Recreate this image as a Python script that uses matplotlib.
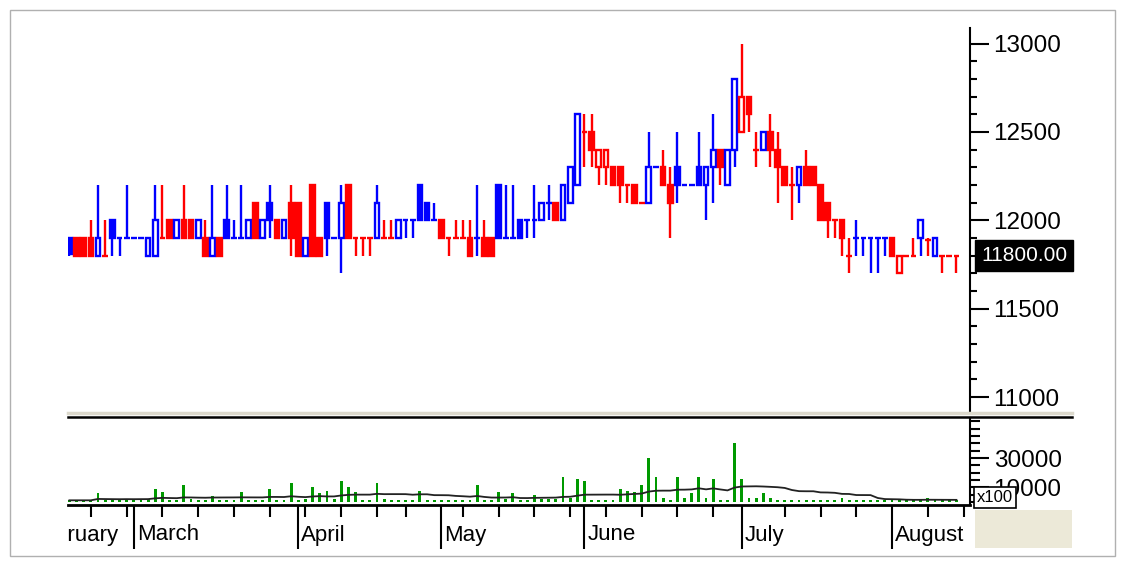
import numpy as np
import pandas as pd
import matplotlib
matplotlib.use("Agg")
import matplotlib.pyplot as plt
from matplotlib.lines import Line2D
from matplotlib.patches import Rectangle
from matplotlib.ticker import MultipleLocator, FixedLocator

plt.rcParams['font.family'] = ['Liberation Sans', 'DejaVu Sans']

# daily prices (Feb - Aug), one entry per trading session
opens = [11900, 11900, 11900, 11900, 11800, 11800, 12000, 11900, 11900, 11900,
         11900, 11800, 11800, 11900, 12000, 11900, 12000, 12000, 11900, 11900,
         11800, 11900, 12000, 11900, 11900, 11900, 12100, 11900, 12100, 12000,
         11900, 12100, 12100, 11800, 12200, 11900, 12100, 11900, 11900, 12200,
         11900, 11900, 11900, 11900, 11900, 11900, 11900, 12000, 12000, 12200,
         12100, 12000, 12000, 11900, 11900, 11900, 11900, 11900, 11900, 11900,
         12200, 11900, 11900, 12000, 12000, 12000, 12000, 12100, 12100, 12000,
         12100, 12200, 12500, 12500, 12300, 12300, 12300, 12300, 12200, 12200,
         12100, 12100, 12300, 12300, 12200, 12300, 12200, 12200, 12300, 12200,
         12300, 12400, 12200, 12400, 12500, 12700, 12400, 12400, 12500, 12400,
         12300, 12200, 12200, 12300, 12300, 12200, 12100, 12000, 12000, 11800,
         11900, 11900, 11900, 11900, 11900, 11900, 11700, 11800, 11800, 11900,
         11890, 11800, 11800, 11800, 11800]
highs = [11900, 11900, 11900, 12000, 12200, 12000, 12000, 11900, 12200, 11900,
         11900, 11900, 12200, 12200, 12000, 12000, 12200, 12000, 12000, 12000,
         12200, 11900, 12200, 12000, 12200, 12000, 12100, 12000, 12200, 12000,
         12000, 12200, 12100, 11900, 12200, 11900, 12100, 11900, 12200, 12200,
         11900, 11900, 11900, 12200, 12000, 12000, 12000, 12000, 12000, 12200,
         12100, 12100, 12000, 11900, 12000, 12000, 12000, 12200, 12000, 11900,
         12200, 12200, 12200, 12000, 12000, 12200, 12100, 12200, 12100, 12200,
         12300, 12600, 12600, 12600, 12400, 12400, 12300, 12300, 12200, 12200,
         12100, 12500, 12300, 12400, 12300, 12500, 12200, 12200, 12500, 12300,
         12600, 12400, 12400, 12800, 13000, 12700, 12500, 12500, 12600, 12500,
         12300, 12300, 12300, 12400, 12300, 12200, 12100, 12000, 12000, 11900,
         12000, 11900, 11900, 11900, 11900, 11900, 11800, 11800, 11900, 12000,
         11900, 11900, 11800, 11800, 11800]
lows = [11800, 11800, 11800, 11800, 11800, 11800, 11800, 11800, 11900, 11900,
        11900, 11800, 11800, 11900, 11900, 11900, 11900, 11900, 11900, 11800,
        11800, 11800, 11900, 11900, 11900, 11900, 11900, 11900, 11900, 11900,
        11900, 11800, 11800, 11800, 11800, 11800, 11800, 11900, 11700, 11900,
        11800, 11800, 11800, 11900, 11900, 11900, 11900, 11900, 11900, 12000,
        12000, 12000, 11900, 11800, 11900, 11900, 11800, 11800, 11800, 11800,
        11900, 11900, 11900, 11900, 11900, 11900, 12000, 12000, 12000, 12000,
        12100, 12200, 12300, 12300, 12200, 12200, 12200, 12100, 12100, 12100,
        12100, 12100, 12300, 12200, 11900, 12100, 12200, 12200, 12200, 12000,
        12100, 12200, 12200, 12300, 12500, 12500, 12300, 12400, 12300, 12100,
        12200, 12000, 12100, 12200, 12200, 12000, 11900, 11900, 11800, 11700,
        11800, 11800, 11700, 11700, 11800, 11800, 11700, 11800, 11800, 11800,
        11800, 11800, 11700, 11800, 11700]
closes = [11810, 11800, 11800, 11800, 11900, 11800, 11900, 11900, 11900, 11900,
          11900, 11900, 12000, 11900, 11900, 12000, 11900, 11900, 12000, 11800,
          11900, 11800, 11900, 11900, 11900, 12000, 11900, 12000, 12000, 11900,
          12000, 11900, 11800, 11900, 11800, 11800, 11900, 11900, 12100, 11900,
          11900, 11900, 11900, 12100, 11900, 11900, 12000, 12000, 12000, 12000,
          12000, 12000, 11900, 11900, 11900, 11900, 11800, 11900, 11800, 11800,
          11900, 11900, 11900, 11900, 12000, 12000, 12100, 12100, 12000, 12200,
          12300, 12600, 12500, 12400, 12400, 12400, 12200, 12200, 12200, 12100,
          12100, 12300, 12300, 12200, 12100, 12200, 12200, 12200, 12200, 12300,
          12400, 12300, 12400, 12800, 12700, 12600, 12400, 12500, 12400, 12300,
          12200, 12200, 12300, 12200, 12200, 12000, 12000, 12000, 11900, 11800,
          11900, 11900, 11900, 11900, 11900, 11800, 11800, 11800, 11800, 12000,
          11890, 11900, 11800, 11800, 11800]
# volume, x100 shares
volumes = [1150, 1150, 1150, 1150, 5800, 1600, 1600, 1600, 2300, 1600,
           2300, 2300, 8800, 6900, 1150, 1150, 11500, 2300, 1150, 1600,
           3900, 1600, 1600, 1600, 6900, 1150, 1150, 1600, 8800, 1600,
           1150, 12700, 1600, 2300, 10000, 5800, 7400, 2300, 14300, 10000,
           6900, 1600, 1600, 12700, 2300, 1600, 1150, 1150, 1150, 7400,
           1150, 1150, 1150, 1150, 1150, 1150, 1600, 11500, 1600, 1600,
           6500, 2300, 5800, 1600, 1600, 4600, 2300, 2300, 2300, 17200,
           3000, 16000, 14400, 1600, 1600, 1600, 1600, 9100, 7600, 6800,
           11400, 29800, 17200, 3000, 1600, 17200, 3000, 5800, 17200, 3000,
           16000, 1600, 1600, 40400, 16000, 3000, 3000, 6100, 3000, 1600,
           1600, 1600, 1600, 1600, 1600, 1600, 1600, 1600, 2600, 1600,
           1600, 1150, 1150, 1150, 1150, 1150, 1150, 1150, 1150, 1600,
           3000, 1150, 1150, 1150, 1150]

month_names = ["February", "March", "April", "May", "June", "July", "August"]
month_starts = [-6, 9, 32, 52, 72, 94, 115]
week_ticks = [3, 8, 13, 18, 23, 28, 33, 38, 43, 47, 55, 60, 65, 70, 75, 80,
              85, 90, 100, 105, 110, 120, 125]

BLUE = "#0000FF"
RED = "#FF0000"
GREEN = "#009900"

df = pd.DataFrame({"open": opens, "high": highs, "low": lows,
                   "close": closes, "volume": volumes})
n = len(df)
x = np.arange(n)

# colour: versus previous close, unchanged keeps the last colour
colors = []
col = BLUE
for i in range(n):
    if i > 0:
        if df.close[i] > df.close[i - 1]:
            col = BLUE
        elif df.close[i] < df.close[i - 1]:
            col = RED
    colors.append(col)
df["color"] = colors
df["vol_ma"] = df.volume.rolling(20, min_periods=1).mean()

W, H = 1125, 564
def fx(px):
    return px / W
def fy(py):
    return 1 - py / H

fig = plt.figure(figsize=(11.25, 5.64), dpi=100)
ax = fig.add_axes([fx(68), fy(412), fx(970) - fx(68), fy(28) - fy(412)])
axv = fig.add_axes([fx(68), fy(505), fx(970) - fx(68), fy(418) - fy(505)])
axd = fig.add_axes([fx(68), fy(550), fx(970) - fx(68), fy(505) - fy(550)])

xlim = (-0.2, 125.9)

# -------------------------------
# price panel
# -------------------------------
ax.vlines(x, df.low, df.high, colors=df.color, lw=1.7, zorder=1)
body = df[df.close != df.open]
ax.bar(body.index, (body.close - body.open).abs(),
       bottom=np.minimum(body.open, body.close), width=0.66,
       color=np.where(body.close > body.open, "white", body.color),
       edgecolor=body.color, linewidth=1.7, zorder=2)
doji = df[df.close == df.open]
ax.hlines(doji.close, doji.index - 0.4, doji.index + 0.4,
          colors=doji.color, lw=1.7, zorder=2)

ax.set_xlim(*xlim)
ax.set_ylim(10916, 13088)
ax.yaxis.tick_right()
ax.set_yticks(range(11000, 13001, 500))
ax.yaxis.set_minor_locator(MultipleLocator(100))
ax.tick_params(axis="y", which="major", direction="out", length=14, width=1.5,
               labelsize=17.5, pad=3)
ax.tick_params(axis="y", which="minor", direction="out", length=5, width=1.5)
ax.set_xticks([])
for s in ["top", "left", "bottom"]:
    ax.spines[s].set_visible(False)
ax.spines["right"].set_linewidth(1.5)

last = df.close.iloc[-1]
ax.text(1.0125, last, f"{last:.2f}", transform=ax.get_yaxis_transform(),
        color="white", fontsize=15, va="center", ha="left",
        bbox=dict(boxstyle="square,pad=0.28", fc="black", ec="black"))

# -------------------------------
# volume panel
# -------------------------------
axv.bar(x, df.volume, width=0.4, color=GREEN, zorder=1)
axv.plot(x, df.vol_ma, color="#222222", lw=1.3, zorder=2)
axv.set_xlim(*xlim)
axv.set_ylim(-2050, 57300)
axv.yaxis.tick_right()
axv.yaxis.set_major_locator(FixedLocator([10000, 30000]))
axv.yaxis.set_minor_locator(MultipleLocator(5000))
axv.tick_params(axis="y", which="major", direction="out", length=14, width=1.5,
                labelsize=17.5, pad=3)
axv.tick_params(axis="y", which="minor", direction="out", length=7, width=1.5)
axv.set_xticks([])
for s in ["top", "left"]:
    axv.spines[s].set_visible(False)
axv.spines["right"].set_linewidth(1.5)
axv.spines["bottom"].set_linewidth(2)

# -------------------------------
# date strip
# -------------------------------
axd.set_xlim(*xlim)
axd.set_ylim(45, 0)
axd.axis("off")
axd.vlines(week_ticks, 0, 12, color="black", lw=1.5)
axd.vlines(month_starts, 0, 44, color="black", lw=1.5)
for m, name in zip(month_starts, month_names):
    axd.text(m + 0.4, 30, name, fontsize=16, va="center", ha="left",
             clip_on=True)

# frame pieces
fig.add_artist(Line2D([fx(68), fx(1072)], [fy(413)] * 2, color="#DCD9CC", lw=2.5))
fig.add_artist(Line2D([fx(68), fx(1072)], [fy(417)] * 2, color="black", lw=1.8))
fig.add_artist(Rectangle((fx(975), fy(548)), fx(1072) - fx(975), fy(510) - fy(548),
                         transform=fig.transFigure, fc="#ECE9D8", ec="none"))
fig.add_artist(Rectangle((fx(10), fy(556)), fx(1115) - fx(10), fy(10) - fy(556),
                         transform=fig.transFigure, fc="none", ec="#B0B0B0", lw=1))
fig.text(fx(977), fy(497), "x100", fontsize=12, va="center", ha="left",
         bbox=dict(boxstyle="square,pad=0.18", fc="white", ec="black", lw=1.2))

fig.savefig("out.png", dpi=100)
